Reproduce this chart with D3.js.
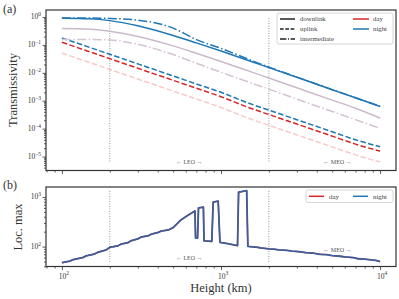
<!DOCTYPE html>
<html><head><meta charset="utf-8">
<script src="https://cdn.jsdelivr.net/npm/d3@7"></script>
<style>
body{margin:0;background:#fff}
svg{display:block}
text{font-family:"Liberation Serif","DejaVu Serif",serif}
</style></head>
<body>
<svg id="c" width="399" height="299"></svg>
<script>
// ---------- data ----------
const heights = [100,150,200,300,500,700,1000,1500,2000,3000,5000,7000,10000];
const downlinkNight = [0.899,0.858,0.740,0.482,0.217,0.118,0.060,0.0272,0.0154,0.0069,0.00248,0.00127,0.00062];
const downlinkDay   = [0.385,0.365,0.31,0.20,0.092,0.050,0.0255,0.0115,0.0065,0.0029,0.00105,0.00054,0.00024];
const intermediateNight = [0.92,0.915,0.89,0.77,0.40,0.155,0.075,0.030,0.0160,0.0070,0.00250,0.00128,0.00063];
const intermediateDay   = [0.155,0.155,0.15,0.105,0.045,0.022,0.0105,0.0046,0.0026,0.00114,0.00041,0.00021,0.000102];
const uplinkNight = [0.178,0.0807,0.0461,0.0209,0.00772,0.0040,0.0020,0.000807,0.000461,0.000209,0.0000772,0.000040,0.0000224];
const uplinkDay   = [0.124,0.0562,0.0321,0.01455,0.00538,0.00279,0.00139,0.000562,0.000321,0.0001455,0.0000538,0.0000279,0.0000156];
const uplinkDayLow = [0.051,0.0231,0.0132,0.00598,0.00221,0.00115,0.000572,0.000231,0.000132,0.0000598,0.0000221,0.0000115,0.0000064];

const locHeights = [100,112,118,135,142,160,168,190,200,225,235,260,270,300,315,350,365,400,420,470,500,530,560,600,650,686,692,712,722,775,782,875,893,960,985,1050,1100,1180,1270,1290,1450,1475,1700,1780,2000,2150,2300,2600,2800,3100,3400,3800,4200,4600,5000,5600,6000,6800,7300,8000,8800,9400,10000];
const locNight = [47.5,51,55,60,65,71,77,86,97,104,112,120,130,143,156,166,178,192,205,218,241,290,345,400,470,523,150,148,600,625,131,127,789,826,122,118,115,110,105,1245,1340,101,97,94,90,89,86,84,81,79,76,74,70,69,66,64,62,60,57,56,54,53,50];
const locDay   = locNight.slice();

const orbitLines = [200, 2000];
const xTickLabels = [100, 1000, 10000];
const yTicksA = [1e0,1e-1,1e-2,1e-3,1e-4,1e-5];
const yTicksB = [1e2,1e3];

// ---------- scales ----------
const svg = d3.select("#c");
const x = d3.scaleLog().domain([Math.pow(10,1.9), Math.pow(10,4.1)]).range([46,396]);
const yA = d3.scaleLog().domain([Math.pow(10,-5.5), Math.pow(10,0.25)]).range([170.5,10]);
const yB = d3.scaleLog().domain([Math.pow(10,1.6), Math.pow(10,3.2)]).range([266.5,187]);

const BLUE="#1f77b4", RED="#d62728";

function minors(lo, hi){
  const out=[];
  for(let e=Math.floor(Math.log10(lo)); e<=Math.ceil(Math.log10(hi)); e++){
    for(let m=2;m<=9;m++){const v=m*Math.pow(10,e); if(v>=lo&&v<=hi) out.push(v);}
  }
  return out;
}
function supLabel(g, v, xx, yy, anchor){
  const e = Math.round(Math.log10(v));
  const t = g.append("text").attr("x",xx).attr("y",yy).attr("text-anchor",anchor)
    .attr("font-size",7.5).attr("fill","#333");
  t.append("tspan").text("10");
  t.append("tspan").attr("dy",-3.5).attr("font-size",5.5).text(e<0?"\u2212"+(-e):String(e));
}

function panel(y, yt, showXLabels){
  const [y0,y1] = y.range();
  const [xa,xb] = x.range();
  const g = svg.append("g");
  const xmaj = d3.axisBottom(x).tickValues(xTickLabels).tickSize(3.5).tickFormat("");
  const xmin = d3.axisBottom(x).tickValues(minors(x.domain()[0], x.domain()[1])).tickSize(2).tickFormat("");
  [xmaj,xmin].forEach(ax=>{
    const a=g.append("g").attr("transform",`translate(0,${y0})`).call(ax);
    a.select(".domain").remove(); a.selectAll("line").attr("stroke","#333").attr("stroke-width",0.8);
  });
  const ymaj = d3.axisLeft(y).tickValues(yt).tickSize(3.5).tickFormat("");
  const ymin = d3.axisLeft(y).tickValues(minors(y.domain()[0], y.domain()[1])).tickSize(2).tickFormat("");
  [ymaj,ymin].forEach(ax=>{
    const a=g.append("g").attr("transform",`translate(${xa},0)`).call(ax);
    a.select(".domain").remove(); a.selectAll("line").attr("stroke","#333").attr("stroke-width",0.8);
  });
  yt.forEach(v=>supLabel(g, v, xa-5, y(v)+2.5, "end"));
  if(showXLabels) xTickLabels.forEach(v=>supLabel(g, v, x(v)+2, y0+12, "middle"));
  orbitLines.forEach(h=>{
    g.append("line").attr("x1",x(h)).attr("x2",x(h))
      .attr("y1", y1 + (y0-y1)*0.05).attr("y2", y0 - (y0-y1)*0.05)
      .attr("stroke","#888").attr("stroke-width",0.9).attr("stroke-dasharray","1,1.5");
  });
  return g;
}

function drawLine(g, xs, ys, y, color, width, dash, opacity){
  const line = d3.line().x(d=>x(d[0])).y(d=>y(d[1])).curve(d3.curveMonotoneX);
  g.append("path").datum(xs.map((h,i)=>[h,ys[i]]))
    .attr("d",line).attr("fill","none").attr("stroke",color)
    .attr("stroke-width",width).attr("stroke-dasharray",dash||null)
    .attr("stroke-opacity",opacity==null?1:opacity);
}
function drawStep(g, xs, ys, y, color, width, opacity){
  const line = d3.line().x(d=>x(d[0])).y(d=>y(d[1]));
  g.append("path").datum(xs.map((h,i)=>[h,ys[i]]))
    .attr("d",line).attr("fill","none").attr("stroke",color)
    .attr("stroke-width",width).attr("stroke-linejoin","round")
    .attr("stroke-opacity",opacity==null?1:opacity);
}
function frame(y){
  const [y0,y1]=y.range(), [xa,xb]=x.range();
  svg.append("rect").attr("x",xa).attr("y",y1).attr("width",xb-xa).attr("height",y0-y1)
    .attr("fill","none").attr("stroke","#333").attr("stroke-width",1.2);
}

// ---------- panel (a) ----------
const gA = panel(yA, yTicksA, false);
const DASH="5.5,2.4", DASHDOT="9,2.4,1.5,2.4";
drawLine(gA, heights, uplinkDayLow, yA, "#f9c9c9", 1.5, DASH);
drawLine(gA, heights, uplinkDay, yA, RED, 1.5, DASH);
drawLine(gA, heights, uplinkNight, yA, BLUE, 1.5, DASH);
drawLine(gA, heights, intermediateDay, yA, "#d3c3d3", 1.5, DASHDOT);
drawLine(gA, heights, downlinkDay, yA, "#cbb9cb", 1.5);
drawLine(gA, heights, intermediateNight, yA, BLUE, 1.5, DASHDOT);
drawLine(gA, heights, downlinkNight, yA, BLUE, 1.5);
frame(yA);
gA.append("text").attr("x",x(632)).attr("y",164).attr("text-anchor","middle").attr("font-size",6).attr("fill","#555").text("\u2190 LEO \u2192");
gA.append("text").attr("x",x(5400)).attr("y",164).attr("text-anchor","middle").attr("font-size",6).attr("fill","#555").text("\u2190 MEO \u2192");

const lgA = svg.append("g");
lgA.append("rect").attr("x",277).attr("y",13).attr("width",116).attr("height",31).attr("rx",2)
  .attr("fill","#fff").attr("fill-opacity",0.85).attr("stroke","#ccc").attr("stroke-width",0.8);
[["downlink",null],["uplink","3.7,1.6"],["intermediate","6.4,1.6,1,1.6"]].forEach((d,i)=>{
  const yy=19+i*10;
  lgA.append("line").attr("x1",280).attr("x2",295).attr("y1",yy).attr("y2",yy).attr("stroke","#222").attr("stroke-width",1.5).attr("stroke-dasharray",d[1]);
  lgA.append("text").attr("x",300).attr("y",yy+2.3).attr("font-size",6.8).attr("fill","#444").text(d[0]);
});
[["day",RED],["night",BLUE]].forEach((d,i)=>{
  const yy=19+i*10;
  lgA.append("line").attr("x1",353).attr("x2",369).attr("y1",yy).attr("y2",yy).attr("stroke",d[1]).attr("stroke-width",1.5);
  lgA.append("text").attr("x",373).attr("y",yy+2.3).attr("font-size",6.8).attr("fill","#444").text(d[0]);
});

// ---------- panel (b) ----------
const gB = panel(yB, yTicksB, true);
drawStep(gB, locHeights, locDay, yB, RED, 1.4);
drawStep(gB, locHeights, locNight, yB, "#3b5f9c", 1.8, 1);
frame(yB);
gB.append("text").attr("x",x(632)).attr("y",260).attr("text-anchor","middle").attr("font-size",6).attr("fill","#555").text("\u2190 LEO \u2192");
gB.append("text").attr("x",x(5400)).attr("y",251.5).attr("text-anchor","middle").attr("font-size",6).attr("fill","#555").text("\u2190 MEO \u2192");

const lgB = svg.append("g");
lgB.append("rect").attr("x",306).attr("y",190).attr("width",87).attr("height",12.5).attr("rx",2)
  .attr("fill","#fff").attr("fill-opacity",0.85).attr("stroke","#ccc").attr("stroke-width",0.8);
[["day",RED,309,329],["night",BLUE,353,373]].forEach(d=>{
  lgB.append("line").attr("x1",d[2]).attr("x2",d[2]+15).attr("y1",196.3).attr("y2",196.3).attr("stroke",d[1]).attr("stroke-width",1.5);
  lgB.append("text").attr("x",d[3]).attr("y",198.6).attr("font-size",6.8).attr("fill","#444").text(d[0]);
});

// ---------- labels ----------
svg.append("text").attr("transform","translate(17,90) rotate(-90)").attr("text-anchor","middle").attr("font-size",12.5).attr("fill","#333").text("Transmissivity");
svg.append("text").attr("transform","translate(22,227) rotate(-90)").attr("text-anchor","middle").attr("font-size",12.5).attr("fill","#333").text("Loc. max");
svg.append("text").attr("x",221).attr("y",292).attr("text-anchor","middle").attr("font-size",12.5).attr("fill","#333").text("Height (km)");
svg.append("text").attr("x",3).attr("y",13).attr("font-size",12).attr("fill","#333").text("(a)");
svg.append("text").attr("x",3).attr("y",189).attr("font-size",12).attr("fill","#333").text("(b)");
</script>
</body></html>
